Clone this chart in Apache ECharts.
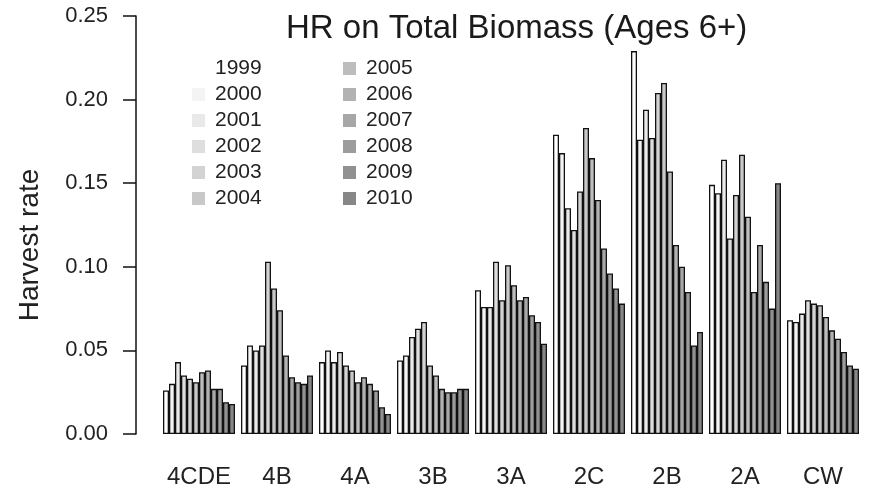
<!DOCTYPE html>
<html>
<head>
<meta charset="utf-8">
<script src="https://cdn.jsdelivr.net/npm/echarts@6/dist/echarts.min.js"></script>
<style>
  html, body { margin: 0; padding: 0; background: #fff; }
  #container { width: 871px; height: 490px; }
</style>
</head>
<body>
<div id="container"></div>
<script>
// regions on the x axis
const regions = ['4CDE', '4B', '4A', '3B', '3A', '2C', '2B', '2A', 'CW']
const years = ['1999', '2000', '2001', '2002', '2003', '2004',
               '2005', '2006', '2007', '2008', '2009', '2010']
const yTicks = [0, 0.05, 0.10, 0.15, 0.20, 0.25]

// harvest rate by region, one value per year 1999..2010
const hr4CDE = [0.026, 0.030, 0.043, 0.035, 0.033, 0.031, 0.037, 0.038, 0.027, 0.027, 0.019, 0.018]
const hr4B   = [0.041, 0.053, 0.050, 0.053, 0.103, 0.087, 0.074, 0.047, 0.034, 0.031, 0.030, 0.035]
const hr4A   = [0.043, 0.050, 0.043, 0.049, 0.041, 0.038, 0.031, 0.034, 0.030, 0.026, 0.016, 0.012]
const hr3B   = [0.044, 0.047, 0.058, 0.063, 0.067, 0.041, 0.035, 0.027, 0.025, 0.025, 0.027, 0.027]
const hr3A   = [0.086, 0.076, 0.076, 0.103, 0.080, 0.101, 0.089, 0.080, 0.082, 0.071, 0.067, 0.054]
const hr2C   = [0.179, 0.168, 0.135, 0.122, 0.145, 0.183, 0.165, 0.140, 0.111, 0.096, 0.087, 0.078]
const hr2B   = [0.229, 0.176, 0.194, 0.177, 0.204, 0.210, 0.157, 0.113, 0.100, 0.085, 0.053, 0.061]
const hr2A   = [0.149, 0.144, 0.164, 0.117, 0.143, 0.167, 0.130, 0.085, 0.113, 0.091, 0.075, 0.150]
const hrCW   = [0.068, 0.067, 0.072, 0.080, 0.078, 0.077, 0.070, 0.062, 0.057, 0.049, 0.041, 0.039]

const byRegion = [hr4CDE, hr4B, hr4A, hr3B, hr3A, hr2C, hr2B, hr2A, hrCW]

// grey ramp, light to dark
const greys = ['#ffffff', '#f4f4f4', '#e9e9e9', '#dedede', '#d3d3d3', '#c8c8c8',
               '#bdbdbd', '#b2b2b2', '#a7a7a7', '#9c9c9c', '#919191', '#878787']

const font = '"Liberation Sans", Arial, Helvetica, sans-serif'

let chart = echarts.init(document.getElementById('container'), null, { renderer: 'canvas' })

let series = years.map(function(y, i) {
  return {
    name: y,
    type: 'bar',
    barGap: '0%',
    barCategoryGap: (100 / 13) + '%',
    itemStyle: {
      color: greys[i],
      borderColor: '#111',
      borderWidth: 1.3
    },
    data: byRegion.map(function(r) { return r[i] })
  }
})

let legendBase = {
  orient: 'vertical',
  icon: 'rect',
  itemWidth: 13,
  itemHeight: 13,
  itemGap: 5,
  itemStyle: { borderWidth: 0 },
  textStyle: {
    fontFamily: font,
    fontSize: 21,
    color: '#222',
    padding: [0, 0, 0, 5]
  },
  selectedMode: false
}

let option = {
  animation: false,
  backgroundColor: '#fff',
  title: {
    text: 'HR on Total Biomass (Ages 6+)',
    left: 281,
    top: 7,
    textStyle: {
      fontFamily: font,
      fontSize: 33,
      fontWeight: 'normal',
      color: '#1a1a1a'
    }
  },
  legend: [
    Object.assign({}, legendBase, { data: years.slice(0, 6), left: 187, top: 53 }),
    Object.assign({}, legendBase, { data: years.slice(6), left: 338, top: 53 })
  ],
  grid: {
    left: 160,
    right: 9,
    top: 16,
    bottom: 56
  },
  xAxis: {
    type: 'category',
    data: regions,
    axisLine: { show: false },
    axisTick: { show: false },
    axisLabel: {
      interval: 0,
      fontFamily: font,
      fontSize: 24,
      color: '#222',
      margin: 31
    }
  },
  yAxis: {
    type: 'value',
    min: yTicks[0],
    max: yTicks[yTicks.length - 1],
    interval: 0.05,
    offset: 24,
    name: 'Harvest rate',
    nameLocation: 'middle',
    nameRotate: 90,
    nameGap: 92,
    nameTextStyle: {
      fontFamily: font,
      fontSize: 28,
      color: '#222',
      padding: [0, 40, 0, 0]
    },
    splitLine: { show: false },
    axisLine: {
      show: true,
      lineStyle: { color: '#111', width: 1.5 }
    },
    axisTick: {
      show: true,
      length: 13,
      lineStyle: { color: '#111', width: 1.5 }
    },
    axisLabel: {
      fontFamily: font,
      fontSize: 22,
      color: '#222',
      margin: 28,
      formatter: function(v) { return v.toFixed(2) }
    }
  },
  series: series
}

option && chart.setOption(option)
window.addEventListener('resize', function() {
  chart.resize()
})
</script>
</body>
</html>
